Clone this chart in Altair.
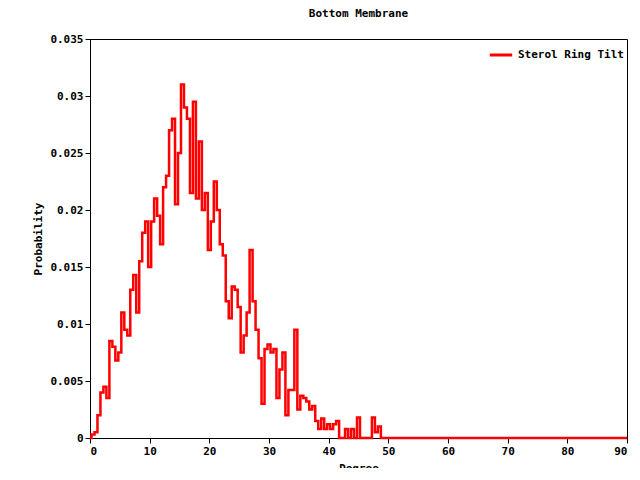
import altair as alt
import pandas as pd

degree = [i * 0.5 for i in range(0, 181)]
prob_head = [
    0, 0.0003, 0.0005, 0.002, 0.004, 0.0045, 0.0035, 0.0085, 0.008, 0.0068,
    0.0075, 0.011, 0.0095, 0.009, 0.013, 0.0143, 0.011, 0.0155, 0.018, 0.019,
    0.015, 0.019, 0.021, 0.0195, 0.017, 0.022, 0.023, 0.027, 0.028, 0.0205,
    0.025, 0.031, 0.029, 0.028, 0.0215, 0.0295, 0.021, 0.026, 0.02, 0.0215,
    0.0165, 0.019, 0.0225, 0.02, 0.017, 0.016, 0.012, 0.0105, 0.0133, 0.013,
    0.0115, 0.0075, 0.009, 0.011, 0.0165, 0.012, 0.0095, 0.007, 0.003, 0.0078,
    0.0082, 0.0075, 0.0078, 0.0035, 0.006, 0.0075, 0.002, 0.0042, 0.0042, 0.0095,
    0.0025, 0.0037, 0.0035, 0.0032, 0.0025, 0.0028, 0.0015, 0.0008, 0.0017, 0.0008,
    0.0012, 0.0008, 0.0012, 0.0015, 0, 0, 0.0008, 0, 0.0008, 0,
    0.0018, 0, 0, 0, 0, 0.0018, 0.0005, 0.001, 0,
]
probability = prob_head + [0] * (len(degree) - len(prob_head))

df = pd.DataFrame({"Degree": degree, "Probability": probability,
                   "series": "Sterol Ring Tilt"})

font = "DejaVu Sans Mono"

chart = alt.Chart(df).mark_line(interpolate="step", strokeWidth=2.5).encode(
    x=alt.X("Degree:Q", title="Degree",
            scale=alt.Scale(domain=[0, 90], nice=False),
            axis=alt.Axis(values=list(range(0, 91, 10)), grid=False)),
    y=alt.Y("Probability:Q", title="Probability",
            scale=alt.Scale(domain=[0, 0.035], nice=False),
            axis=alt.Axis(values=[0, 0.005, 0.01, 0.015, 0.02, 0.025, 0.03, 0.035],
                          format="~g", grid=False)),
    color=alt.Color("series:N", scale=alt.Scale(range=["#ff0000"]),
                    legend=alt.Legend(title=None, orient="top-right",
                                      direction="vertical", symbolType="stroke",
                                      symbolStrokeWidth=3, symbolSize=500,
                                      labelFont=font, labelFontSize=11,
                                      labelFontWeight="bold", offset=3)),
).properties(
    width=537, height=399,
    title=alt.TitleParams("Bottom Membrane", font=font, fontSize=11,
                          fontWeight="bold", offset=14),
    autosize=alt.AutoSizeParams(type="none"),
    padding={"left": 82, "top": 31, "right": 5, "bottom": 30},
).configure_view(
    stroke="black", strokeWidth=1
).configure_axis(
    labelFont=font, titleFont=font, labelFontSize=11, titleFontSize=11,
    labelFontWeight="bold", titleFontWeight="bold",
    domainColor="black", tickColor="black", labelColor="black",
    tickSize=5, titlePadding=6
)

chart.save("out.html", embed_options={"renderer": "svg", "actions": False})
